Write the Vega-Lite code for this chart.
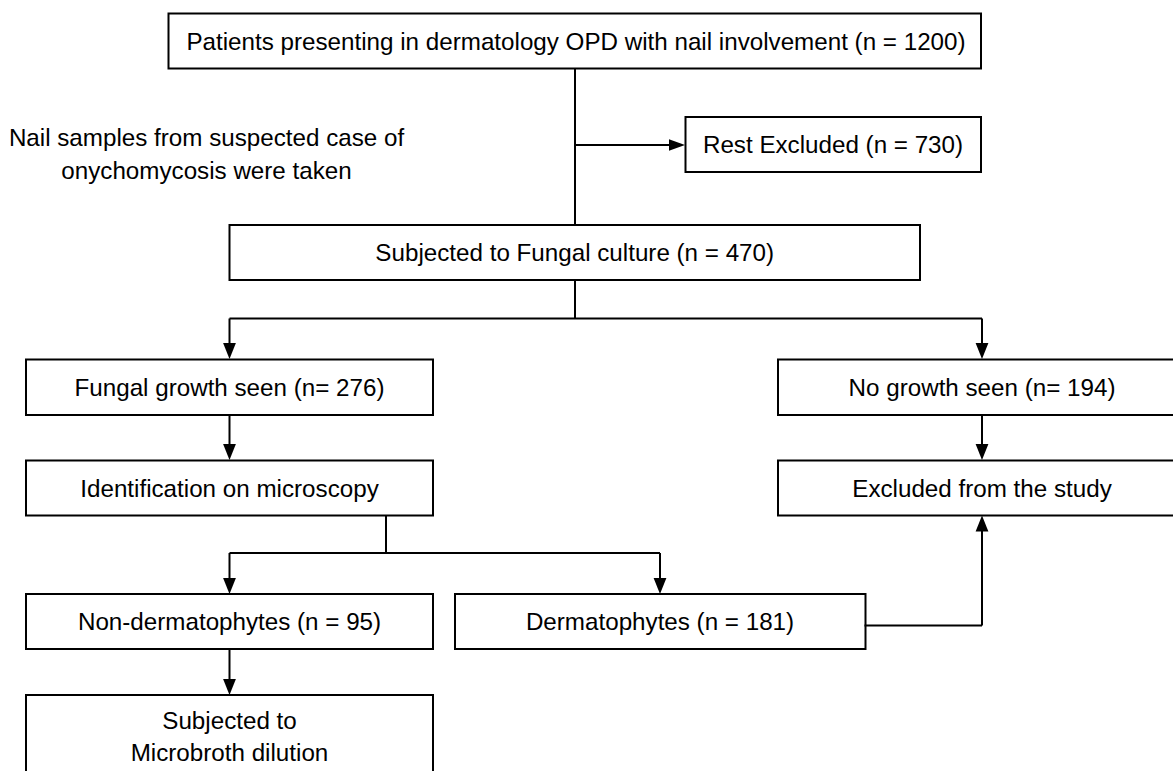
{
  "$schema": "https://vega.github.io/schema/vega-lite/v6.json",
  "width": 1173,
  "height": 771,
  "autosize": {"type": "fit", "contains": "padding"},
  "padding": 0,
  "background": "white",
  "config": {"view": {"stroke": null}},
  "datasets": {
    "boxes": [
      {"id": "top", "x1": 168.5, "x2": 981, "y1": 13.5, "y2": 68.5},
      {"id": "rest", "x1": 685.5, "x2": 981, "y1": 117, "y2": 172},
      {"id": "culture", "x1": 229.5, "x2": 920, "y1": 225, "y2": 280},
      {"id": "growth", "x1": 26, "x2": 433, "y1": 359.5, "y2": 415},
      {"id": "nogrowth", "x1": 778, "x2": 1186, "y1": 359.5, "y2": 415},
      {"id": "ident", "x1": 26, "x2": 433, "y1": 460.5, "y2": 515.5},
      {"id": "excl", "x1": 778, "x2": 1186, "y1": 460.5, "y2": 515.5},
      {"id": "nonderm", "x1": 26, "x2": 433, "y1": 594, "y2": 649},
      {"id": "derm", "x1": 455, "x2": 865.5, "y1": 594, "y2": 649},
      {"id": "micro", "x1": 26, "x2": 433, "y1": 695, "y2": 800}
    ],
    "lines": [
      {"x": 575, "y": 68.5, "x2": 575, "y2": 225},
      {"x": 575, "y": 145, "x2": 680, "y2": 145},
      {"x": 575, "y": 280, "x2": 575, "y2": 318.5},
      {"x": 229.5, "y": 318.5, "x2": 982, "y2": 318.5},
      {"x": 229.5, "y": 318.5, "x2": 229.5, "y2": 355},
      {"x": 982, "y": 318.5, "x2": 982, "y2": 355},
      {"x": 229.5, "y": 415, "x2": 229.5, "y2": 456},
      {"x": 982, "y": 415, "x2": 982, "y2": 456},
      {"x": 386, "y": 515.5, "x2": 386, "y2": 553},
      {"x": 229.5, "y": 553, "x2": 660, "y2": 553},
      {"x": 229.5, "y": 553, "x2": 229.5, "y2": 590},
      {"x": 660, "y": 553, "x2": 660, "y2": 590},
      {"x": 229.5, "y": 649, "x2": 229.5, "y2": 691},
      {"x": 864.5, "y": 625.5, "x2": 982, "y2": 625.5},
      {"x": 982, "y": 625.5, "x2": 982, "y2": 520}
    ],
    "arrows": [
      {"x": 685, "y": 145, "dir": "right"},
      {"x": 229.5, "y": 359, "dir": "down"},
      {"x": 982, "y": 359, "dir": "down"},
      {"x": 229.5, "y": 460, "dir": "down"},
      {"x": 982, "y": 460, "dir": "down"},
      {"x": 229.5, "y": 594, "dir": "down"},
      {"x": 660, "y": 594, "dir": "down"},
      {"x": 229.5, "y": 695, "dir": "down"},
      {"x": 982, "y": 515.5, "dir": "up"}
    ],
    "labels": [
      {"text": "Patients presenting in dermatology OPD with nail involvement (n = 1200)", "x": 576, "y": 41},
      {"text": "Rest Excluded (n = 730)", "x": 833, "y": 144.5},
      {"text": "Subjected to Fungal culture (n = 470)", "x": 574.7, "y": 252.5},
      {"text": "Fungal growth seen (n= 276)", "x": 229.5, "y": 387},
      {"text": "No growth seen (n= 194)", "x": 982, "y": 387},
      {"text": "Identification on microscopy", "x": 229.5, "y": 488},
      {"text": "Excluded from the study", "x": 982, "y": 488},
      {"text": "Non-dermatophytes (n = 95)", "x": 229.5, "y": 621.5},
      {"text": "Dermatophytes (n = 181)", "x": 660, "y": 621.5},
      {"text": "Subjected to", "x": 229.5, "y": 720},
      {"text": "Microbroth dilution", "x": 229.5, "y": 752},
      {"text": "Nail samples from suspected case of", "x": 206.5, "y": 137},
      {"text": "onychomycosis were taken", "x": 206.5, "y": 170}
    ]
  },
  "layer": [
    {
      "data": {"name": "boxes"},
      "mark": {"type": "rect", "fill": "white", "stroke": "black", "strokeWidth": 2, "clip": true},
      "encoding": {
        "x": {"field": "x1", "type": "quantitative", "scale": {"domain": [0, 1173], "nice": false, "zero": false}, "axis": null},
        "x2": {"field": "x2"},
        "y": {"field": "y1", "type": "quantitative", "scale": {"domain": [0, 771], "nice": false, "zero": false, "reverse": true}, "axis": null},
        "y2": {"field": "y2"}
      }
    },
    {
      "data": {"name": "lines"},
      "mark": {"type": "rule", "stroke": "black", "strokeWidth": 2},
      "encoding": {
        "x": {"field": "x", "type": "quantitative"},
        "x2": {"field": "x2"},
        "y": {"field": "y", "type": "quantitative"},
        "y2": {"field": "y2"}
      }
    },
    {
      "data": {"name": "arrows"},
      "mark": {"type": "point", "filled": true, "fill": "black", "opacity": 1, "strokeWidth": 0, "size": 1024},
      "encoding": {
        "x": {"field": "x", "type": "quantitative"},
        "y": {"field": "y", "type": "quantitative"},
        "shape": {
          "field": "dir",
          "type": "nominal",
          "legend": null,
          "scale": {
            "domain": ["down", "right", "up"],
            "range": ["M-0.4,-1L0.4,-1L0,0Z", "M-1,-0.36L-1,0.36L0,0Z", "M-0.4,1L0.4,1L0,0Z"]
          }
        }
      }
    },
    {
      "data": {"name": "labels"},
      "mark": {"type": "text", "font": "Liberation Sans", "fontSize": 24.2, "color": "black", "align": "center", "baseline": "middle", "dy": 1.5},
      "encoding": {
        "x": {"field": "x", "type": "quantitative"},
        "y": {"field": "y", "type": "quantitative"},
        "text": {"field": "text"}
      }
    }
  ]
}
